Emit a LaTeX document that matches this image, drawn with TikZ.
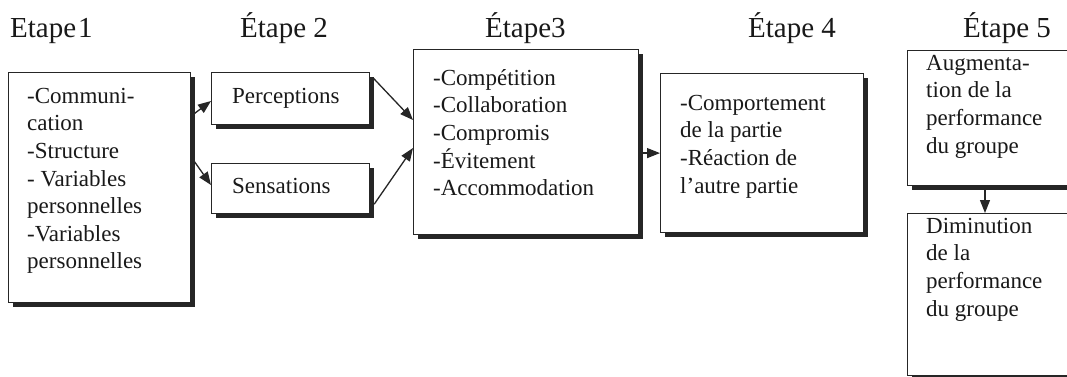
\documentclass[tikz,border=0pt]{standalone}
\usepackage{fontspec}
\setmainfont{Liberation Serif}
\usetikzlibrary{arrows.meta,shadows,calc}
% strut that fixes the height of the first text line in a box
\newcommand\firstline{\rule{0pt}{18pt}}
\begin{document}
\begin{tikzpicture}[x=1pt,y=-1pt,
  stepbox/.style={rectangle, draw=black!85, line width=1.2pt, fill=white,
    anchor=north west, inner sep=0pt,
    drop shadow={shadow xshift=4pt, shadow yshift=-4pt, opacity=1, fill=black!85}},
  boxtext/.style={anchor=north west, inner sep=0pt, align=left, text=black!90,
    font=\fontsize{23}{27.6}\selectfont},
  heading/.style={anchor=base west, inner sep=0pt, text=black!90,
    font=\fontsize{29}{34}\selectfont},
  arr/.style={draw=black!85, line width=1.3pt, -{Triangle[length=13pt,width=10pt]}}]

\useasboundingbox (0,0) rectangle (1067,376);
\fill[white] (0,0) rectangle (1067,376);
\clip (0,0) rectangle (1067,376);

% headings
\node[heading] (h1) at (10,37) {Etape\kern2pt{}1};
\node[heading] (h2) at (240,37) {Étape 2};
\node[heading] (h3) at (485,37) {Étape3};
\node[heading] (h4) at (748,37) {Étape 4};
\node[heading] (h5) at (963,37) {Étape 5};

% boxes
\node[stepbox, minimum width=182pt, minimum height=230pt] (b1) at (8,72) {};
\node[stepbox, minimum width=158pt, minimum height=52pt] (perc) at (211,72) {};
\node[stepbox, minimum width=158pt, minimum height=50pt] (sens) at (211,163) {};
\node[stepbox, minimum width=225pt, minimum height=185pt] (b3) at (413,49) {};
\node[stepbox, minimum width=203pt, minimum height=159pt] (b4) at (660,73) {};
\node[stepbox, minimum width=180pt, minimum height=135pt] (b5a) at (907,50) {};
\node[stepbox, minimum width=180pt, minimum height=162pt] (b5b) at (907,213) {};

% box texts
\node[boxtext] (t1) at ($(b1.north west)+(19,13)$)
  {\firstline-Communi-\\cation\\-Structure\\- Variables\\personnelles\\-Variables\\personnelles};
\node[boxtext] (tp) at ($(perc.north west)+(21,13)$) {\firstline Perceptions};
\node[boxtext] (ts) at ($(sens.north west)+(21,12)$) {\firstline Sensations};
\node[boxtext] (t3) at ($(b3.north west)+(20,18)$)
  {\firstline-Compétition\\-Collaboration\\-Compromis\\-Évitement\\-Accommodation};
\node[boxtext] (t4) at ($(b4.north west)+(20,19)$)
  {\firstline-Comportement\\de la partie\\-Réaction de\\l’autre partie};
\node[boxtext] (t5a) at ($(b5a.north west)+(19,2)$)
  {\firstline Augmenta-\\tion de la\\performance\\du groupe};
\node[boxtext] (t5b) at ($(b5b.north west)+(19,2)$)
  {\firstline Diminution\\de la\\performance\\du groupe};

% connectors
\draw[arr] ($(b1.north east)+(0,44)$) -- ($(perc.north west)+(0,29)$);
\draw[arr] ($(b1.north east)+(0,85)$) -- ($(sens.north west)+(0,22)$);
\draw[arr] ($(perc.north east)+(3,6)$) -- ($(b3.north west)+(0,71)$);
\draw[arr] ($(sens.south east)+(4,-10)$) -- ($(b3.north west)+(0,99)$);
\draw[arr] (b4.west -| b3.east) -- (b4.west);
\draw[arr] ($(b5a.south west)+(78,4)$) -- ($(b5b.north west)+(78,0)$);
\end{tikzpicture}
\end{document}
